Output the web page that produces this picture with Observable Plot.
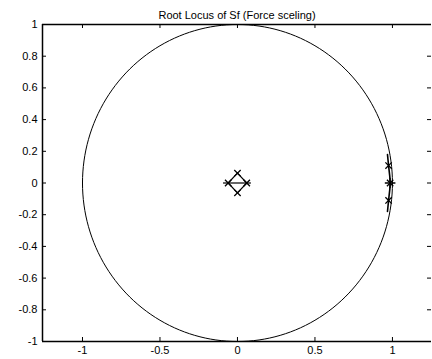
<!DOCTYPE html>
<html><head><meta charset="utf-8">
<script src="https://cdn.jsdelivr.net/npm/d3@7"></script>
<script src="https://cdn.jsdelivr.net/npm/@observablehq/plot@0.6"></script>
<style>body{margin:0;background:#fff} svg{display:block}</style>
</head><body><div id="chart"></div>
<script>
const titleText = "Root Locus of Sf (Force sceling)";
const xTicks = [-1, -0.5, 0, 0.5, 1];
const yTicks = [-1, -0.8, -0.6, -0.4, -0.2, 0, 0.2, 0.4, 0.6, 0.8, 1];
const xDomain = [-1.258, 1.252];
const yDomain = [-1, 1];
// poles (x marks)
const poleRe = [0, 0.06, 0, -0.06, 0.975, 0.975, 0.985];
const poleIm = [0.062, 0, -0.062, 0, 0.11, -0.11, 0];
// locus branches near the origin (diamond)
const centerRe = [0, 0.06, 0, -0.06, 0];
const centerIm = [0.062, 0, -0.062, 0, 0.062];
// short horizontal strokes at the side poles
const sideRe = [-0.09, 0.09];
// locus branches near z = 1
const rightRe = [0.968, 0.975, 0.983, 0.985, 0.983, 0.975, 0.968];
const rightIm = [0.18, 0.11, 0.04, 0, -0.04, -0.11, -0.18];
// unit circle (z-plane stability boundary)
const circleDeg = d3.range(0, 361, 2);

const poles = poleRe.map((x, i) => ({x, y: poleIm[i]}));
const center = centerRe.map((x, i) => ({x, y: centerIm[i]}));
const right = rightRe.map((x, i) => ({x, y: rightIm[i]}));
const circle = circleDeg.map(a => ({x: Math.cos(a * Math.PI / 180), y: Math.sin(a * Math.PI / 180)}));

const W = 432, H = 359, mL = 42, mR = 1, mT = 24, mB = 18, tick = 4;
const plotW = W - mL - mR, plotH = H - mT - mB;
const fmt = d => String(d);
const chart = Plot.plot({
  width: W, height: H,
  marginLeft: mL, marginRight: mR, marginTop: mT, marginBottom: mB,
  style: {fontFamily: "Liberation Sans, Arial, sans-serif", fontSize: "11px", color: "#000", background: "#fff"},
  x: {domain: xDomain, axis: null},
  y: {domain: yDomain, axis: null},
  marks: [
    Plot.ruleX([xDomain[0]], {stroke: "#000", strokeWidth: 1.5}),
    Plot.ruleY([yDomain[0], yDomain[1]], {stroke: "#000", strokeWidth: 1.5}),
    Plot.tickX(xTicks, {x: d => d, insetTop: plotH - tick, stroke: "#000"}),
    Plot.tickX(xTicks, {x: d => d, insetBottom: plotH - tick, stroke: "#000"}),
    Plot.tickY(yTicks, {y: d => d, insetRight: plotW - tick, stroke: "#000"}),
    Plot.tickY(yTicks, {y: d => d, insetLeft: plotW - tick, stroke: "#000"}),
    Plot.axisX(xTicks, {anchor: "bottom", tickSize: 0, tickPadding: 5, tickFormat: fmt, fontSize: 11, label: null}),
    Plot.axisY(yTicks, {anchor: "left", tickSize: 0, tickPadding: 5, tickFormat: fmt, fontSize: 11, label: null}),
    Plot.line(circle, {x: "x", y: "y", stroke: "#000", strokeWidth: 1}),
    Plot.line(center, {x: "x", y: "y", stroke: "#000", strokeWidth: 1.2}),
    Plot.ruleY([0], {x1: sideRe[0], x2: sideRe[1], stroke: "#000", strokeWidth: 1.2}),
    Plot.line(right, {x: "x", y: "y", stroke: "#000", strokeWidth: 1.6}),
    Plot.dot(poles, {x: "x", y: "y", symbol: "times", r: 3, stroke: "#000", strokeWidth: 1.3}),
    Plot.dot([poles[6]], {x: "x", y: "y", symbol: "plus", r: 3.5, stroke: "#000", strokeWidth: 1.3}),
    Plot.text([titleText], {frameAnchor: "top", dy: -13, fontSize: 11, fill: "#000"})
  ]
});
document.getElementById("chart").appendChild(chart);
</script>
</body></html>
